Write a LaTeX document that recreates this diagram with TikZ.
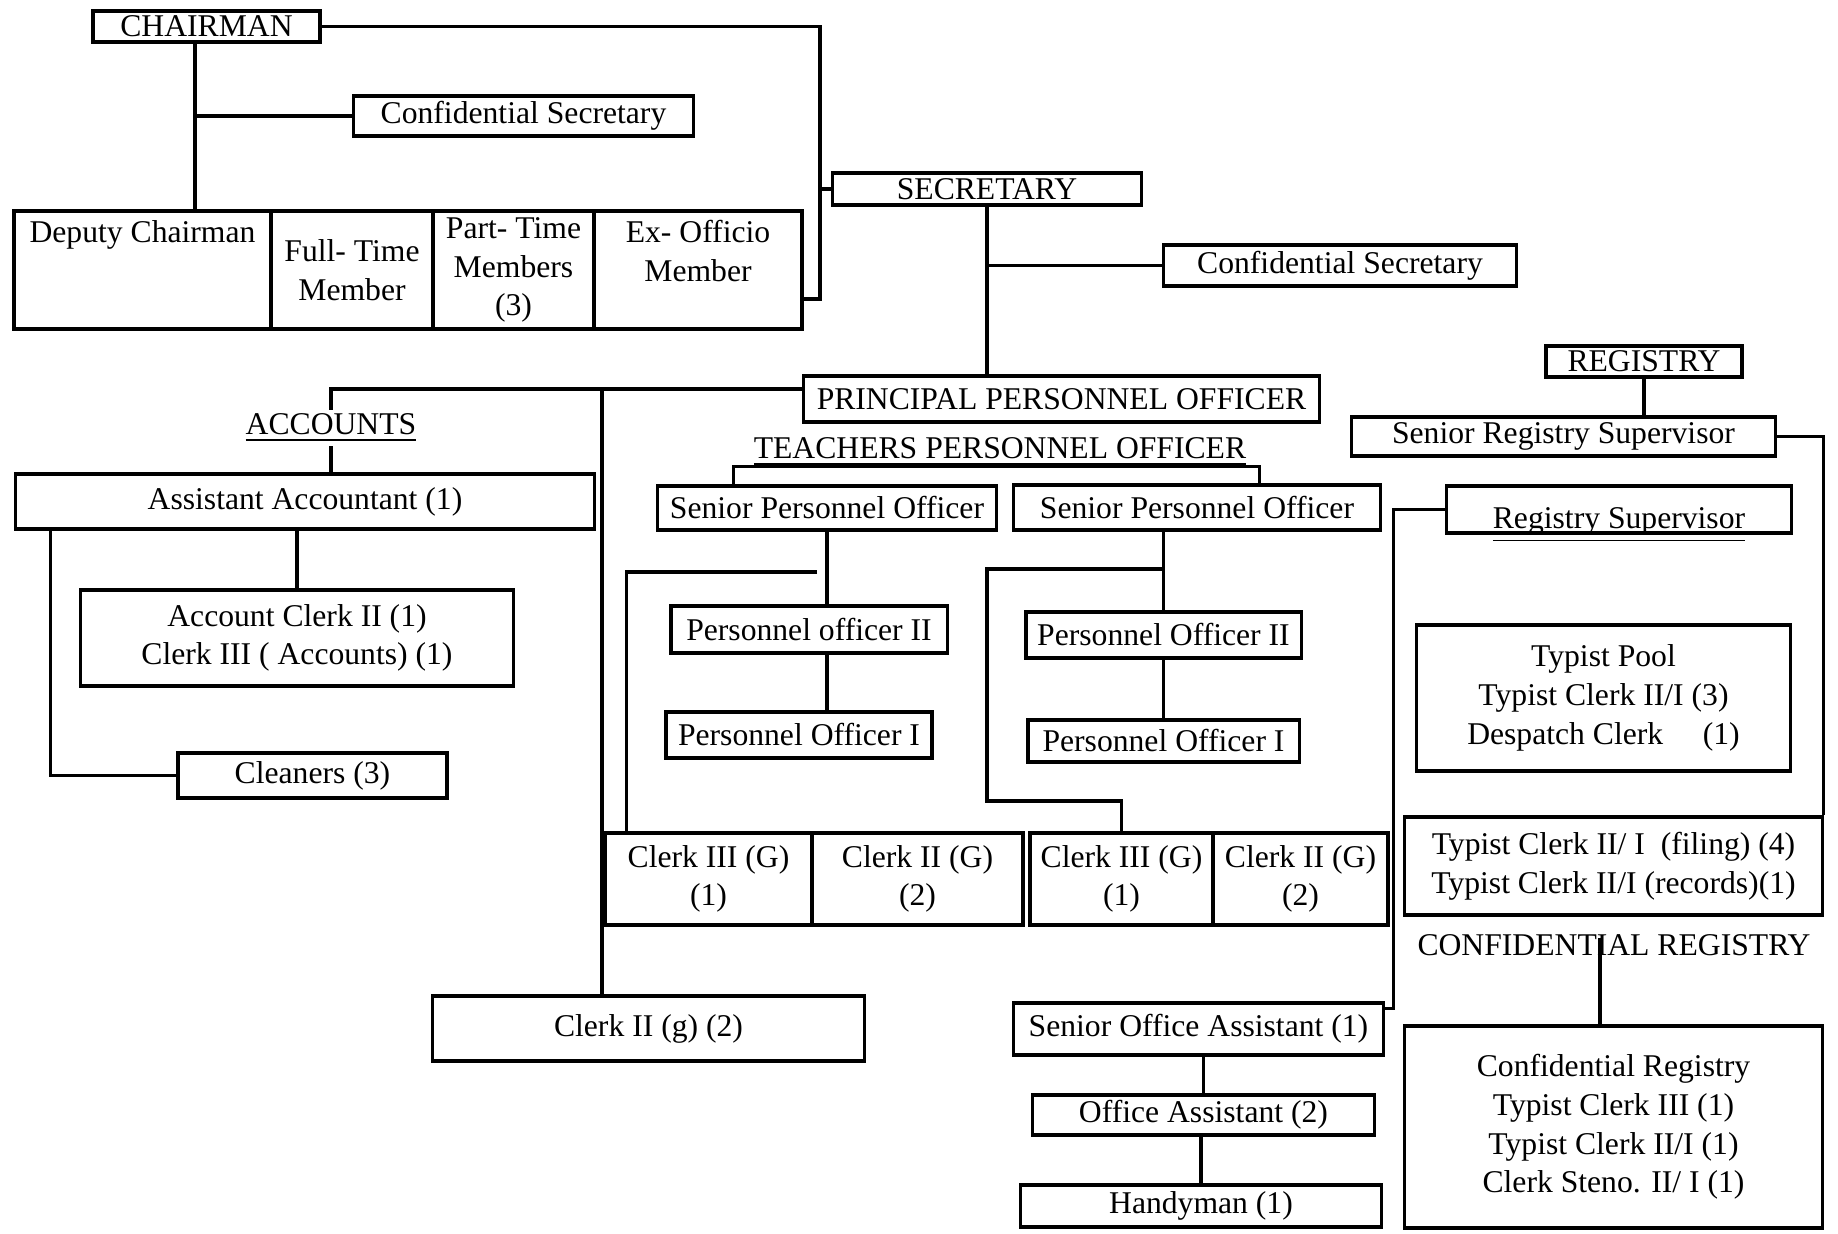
\documentclass[tikz,border=0pt]{standalone}
\usepackage{fontspec}
\setmainfont{Liberation Serif}
\usetikzlibrary{positioning, calc}

\begin{document}
\begin{tikzpicture}[x=0.01cm, y=-0.01cm,
    box/.style={draw, line width=.9pt, inner sep=1pt, align=center,
                font=\fontsize{9}{11}\selectfont},
    head/.style={inner sep=1pt, font=\fontsize{9}{11}\selectfont},
    link/.style={line width=.9pt}]
  \useasboundingbox (0,0) rectangle (1838,1234);

  % board
  \node[box, minimum width=2.27cm, minimum height=.31cm] (chair) at (206.5,26.5) {CHAIRMAN};
  \node[box, minimum width=3.39cm, minimum height=.40cm] (csec1) at (523.5,116) {Confidential Secretary};
  \node[box, minimum width=2.57cm, minimum height=1.18cm] (dep) at (142.5,270) {Deputy Chairman\\ \\ };
  \node[box, minimum width=1.62cm, minimum height=1.18cm] (ftm) at (352,270) {Full- Time\\Member};
  \node[box, minimum width=1.61cm, minimum height=1.18cm] (ptm) at (513.5,270) {Part- Time\\Members\\(3)};
  \node[box, minimum width=2.08cm, minimum height=1.18cm] (exo) at (698,270) {Ex- Officio\\Member\\ };

  % secretary
  \node[box, minimum width=3.08cm, minimum height=.32cm] (sec) at (987,189) {SECRETARY};
  \node[box, minimum width=3.52cm, minimum height=.41cm] (csec2) at (1340,265.5) {Confidential Secretary};
  \node[box, minimum width=5.15cm, minimum height=.46cm] (ppo) at (1061.5,399) {PRINCIPAL PERSONNEL OFFICER};

  % accounts
  \node[head] (acc) at (331,428) {\underline{ACCOUNTS}};
  \node[box, minimum width=5.78cm, minimum height=.55cm] (aacc) at (305,501.5) {Assistant Accountant (1)};
  \node[box, minimum width=4.32cm, minimum height=.96cm] (aclerk) at (297,638) {Account Clerk II (1)\\Clerk III ( Accounts) (1)};
  \node[box, minimum width=2.69cm, minimum height=.45cm] (clean) at (312.5,775.5) {Cleaners (3)};
  \node[box, minimum width=4.31cm, minimum height=.65cm] (clg) at (648.5,1028.5) {Clerk II (g) (2)};

  % teachers personnel
  \node[head] (tpo) at (1000,452) {\underline{TEACHERS PERSONNEL OFFICER}};
  \node[box, minimum width=3.38cm, minimum height=.44cm] (spo1) at (827,508) {Senior Personnel Officer};
  \node[box, minimum width=3.66cm, minimum height=.45cm] (spo2) at (1197,507.5) {Senior Personnel Officer};
  \node[box, minimum width=2.76cm, minimum height=.47cm] (po2a) at (809,629.5) {Personnel officer II};
  \node[box, minimum width=2.66cm, minimum height=.46cm] (po1a) at (799,735) {Personnel Officer I};
  \node[box, minimum width=2.75cm, minimum height=.46cm] (po2b) at (1163.5,635) {Personnel Officer II};
  \node[box, minimum width=2.71cm, minimum height=.42cm] (po1b) at (1163.5,741) {Personnel Officer I};
  \node[box, minimum width=2.07cm, minimum height=.92cm] (ck3a) at (708.5,879) {Clerk III (G)\\(1)};
  \node[box, minimum width=2.11cm, minimum height=.92cm] (ck2a) at (917.5,879) {Clerk II (G)\\(2)};
  \node[box, minimum width=1.83cm, minimum height=.92cm] (ck3b) at (1121.5,879) {Clerk III (G)\\(1)};
  \node[box, minimum width=1.75cm, minimum height=.92cm] (ck2b) at (1300.5,879) {Clerk II (G)\\(2)};

  % office assistants
  \node[box, minimum width=3.69cm, minimum height=.52cm] (soa) at (1198.5,1029) {Senior Office Assistant (1)};
  \node[box, minimum width=3.41cm, minimum height=.40cm] (oa) at (1203.5,1115) {Office Assistant (2)};
  \node[box, minimum width=3.60cm, minimum height=.42cm] (hm) at (1201,1206) {Handyman (1)};

  % registry
  \node[box, minimum width=1.96cm, minimum height=.31cm] (reg) at (1644,361.5) {REGISTRY};
  \node[box, minimum width=4.23cm, minimum height=.39cm] (srs) at (1563.5,436.5) {Senior Registry Supervisor};
  \node[box, minimum width=3.44cm, minimum height=.47cm] (rsup) at (1619,509.5) {\raisebox{-5.5pt}[0pt][0pt]{\underline{Registry Supervisor}}};
  \node[box, minimum width=3.73cm, minimum height=1.46cm] (pool) at (1603.5,698) {Typist Pool\\Typist Clerk II/I (3)\\Despatch Clerk \quad(1)};
  \node[box, minimum width=4.17cm, minimum height=.98cm] (fil) at (1613.5,866) {Typist Clerk II/ I \ (filing) (4)\\Typist Clerk II/I (records)(1)};
  \node[head] (crlab) at (1614,945) {CONFIDENTIAL REGISTRY};
  \node[box, minimum width=4.17cm, minimum height=2.02cm] (creg) at (1613.5,1127) {Confidential Registry\\Typist Clerk III (1)\\Typist Clerk II/I (1)\\Clerk Steno. II/ I (1)};

  % connectors
  \coordinate (cj) at ($(chair.south)+(-11.5,0)$);
  \coordinate (cbot) at (820,299);
  \coordinate (pbus) at (331,389);
  \coordinate (gx) at (602,389);
  \coordinate (lb) at (817,572);
  \coordinate (rbt) at (987,569);
  \coordinate (rbb) at (987,801);
  \coordinate (crl) at (1600,938);

  \draw[link] (cj) -- (cj |- dep.north);
  \draw[link] (cj |- csec1.west) -- (csec1.west);
  \draw[link] (chair.east) -| (cbot) -- (cbot -| exo.east);
  \draw[link] (cbot |- sec.west) -- (sec.west);
  \draw[link] (sec.south) -- (sec.south |- ppo.north);
  \draw[link] (sec.south |- csec2.west) -- (csec2.west);
  \draw[link] (ppo.west |- pbus) -- (pbus) -- (acc.north);
  \draw[link] (acc.south) -- (acc.south |- aacc.north);
  \draw[link] (gx) -- (gx |- clg.north);
  \draw[link] (aclerk.north) -- (aclerk.north |- aacc.south);
  \draw[link] ($(aacc.south west)+(36,0)$) |- (clean.west);
  \draw[link] ($(spo1.north west)+(77,0)$) -- ++(0,-18) -| ($(spo2.north east)+(-122,0)$);
  \draw[link] (spo1.south) -- (spo1.south |- po2a.north);
  \draw[link] (spo1.south |- po2a.south) -- (spo1.south |- po1a.north);
  \draw[link] (lb) -| ($(ck3a.north west)+(23,0)$);
  \draw[link] (po2b.north |- spo2.south) -- (po2b.north);
  \draw[link] (po2b.south) -- (po1b.north);
  \draw[link] (rbt -| po2b.north) -- (rbt) -- (rbb) -| (ck3b.north);
  \draw[link] (reg.south) -- (reg.south |- srs.north);
  \draw[link] (srs.east) -| (fil.north east);
  \draw[link] ($(soa.north east)+(0,7)$) -| ($(rsup.west)+(-52,0)$) -- (rsup.west);
  \draw[link] (crl) -- (crl |- creg.north);
  \draw[link] (oa.north) -- (oa.north |- soa.south);
  \draw[link] (hm.north) -- (hm.north |- oa.south);
\end{tikzpicture}
\end{document}
